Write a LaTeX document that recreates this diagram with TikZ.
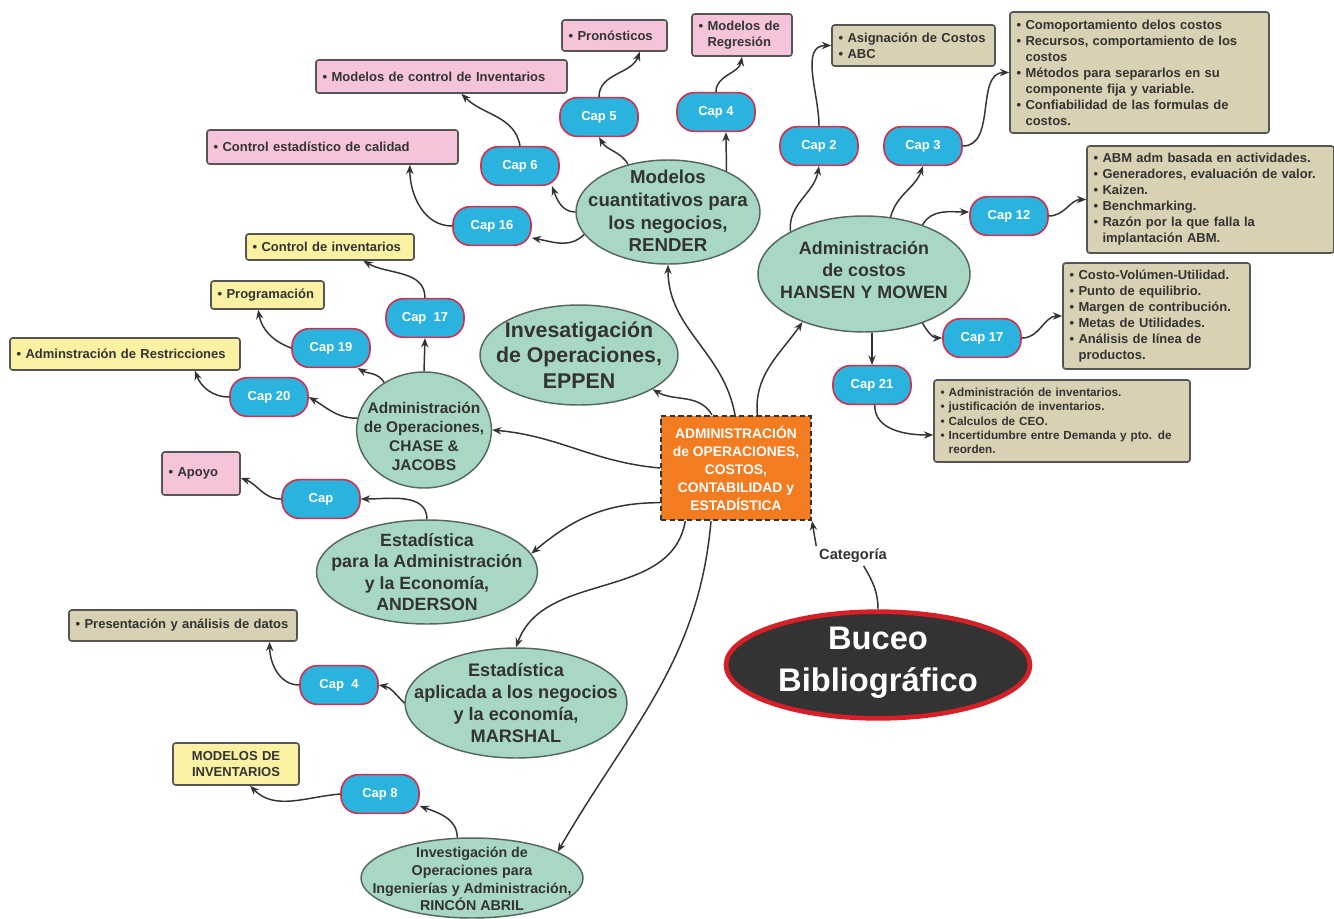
\documentclass[tikz,border=0pt]{standalone}
\usepackage{fontspec}
\setmainfont{Liberation Sans}
\usetikzlibrary{arrows.meta,shapes.geometric,calc}
\definecolor{txt}{HTML}{333333}
\definecolor{ellF}{HTML}{A8D8C3}
\definecolor{ellB}{HTML}{56675F}
\definecolor{capF}{HTML}{2BB3E0}
\definecolor{capB}{HTML}{D0304A}
\definecolor{pinkF}{HTML}{F6C4DA}
\definecolor{tanF}{HTML}{D8D1B3}
\definecolor{yelF}{HTML}{FBF1A3}
\definecolor{boxB}{HTML}{555555}
\definecolor{orgF}{HTML}{F47C20}
\definecolor{bucB}{HTML}{D61F26}
\definecolor{bucF}{HTML}{333333}
\begin{document}
\begin{tikzpicture}[x=0.75pt,y=-0.75pt,
  con/.style={draw=txt, line width=1.1pt, -{Stealth[length=7pt,width=5.5pt]}},
  plain/.style={draw=txt, line width=1.1pt},
  ell/.style={ellipse, draw=ellB, fill=ellF, line width=1.1pt, inner sep=0pt},
  etext/.style={text=txt, align=center, inner sep=0pt},
  capnode/.style={rectangle, rounded corners=13pt, draw=capB, fill=capF, line width=1.2pt,
    minimum width=58.5pt, minimum height=29pt, text=white,
    font=\fontsize{9.75}{12}\selectfont\bfseries},
  bx/.style={rectangle, rounded corners=2pt, draw=boxB, line width=1.2pt, text=txt,
    align=left, inner xsep=5pt, inner ysep=2pt,
    font=\fontsize{9.75}{12}\selectfont\bfseries},
  pinkbox/.style={bx, fill=pinkF},
  tanbox/.style={bx, fill=tanF},
  yelbox/.style={bx, fill=yelF}
]
\useasboundingbox (0,0) rectangle (1334,918);

% ---------- central and root ----------
\node[rectangle, draw=txt, fill=orgF, line width=1.5pt, dash pattern=on 4pt off 2.5pt,
  minimum width=112.5pt, minimum height=78pt, text=white, align=center, inner sep=1pt,
  font=\fontsize{10.4}{13.5}\selectfont\bfseries] (c) at (736,468)
  {ADMINISTRACIÓN\\de OPERACIONES,\\COSTOS,\\CONTABILIDAD y\\ESTADÍSTICA};

\node[ellipse, draw=bucB, fill=bucF, line width=3.5pt, minimum width=228pt, minimum height=80pt, inner sep=0pt] (buceo) at (878,665) {};
\node[etext, text=white, font=\fontsize{24.5}{31.5}\selectfont\bfseries] (buceoT) at (878,663) {Buceo\\Bibliográfico};

\node[text=txt, font=\fontsize{11}{13}\selectfont\bfseries, inner sep=2pt] (cat) at (853,556) {Categoría};

% ---------- ellipses ----------
\node[ell, minimum width=138pt, minimum height=78pt] (render) at (668,212) {};
\node[etext, font=\fontsize{14}{17}\selectfont\bfseries] (renderT) at (668,211) {Modelos\\cuantitativos para\\los negocios,\\RENDER};

\node[ell, minimum width=159pt, minimum height=87pt] (hansen) at (864,274) {};
\node[etext, font=\fontsize{13.4}{16.5}\selectfont\bfseries] (hansenT) at (864,270) {Administración\\de costos\\HANSEN Y MOWEN};

\node[ell, minimum width=148.5pt, minimum height=75pt] (eppen) at (579,355) {};
\node[etext, font=\fontsize{16}{19}\selectfont\bfseries] (eppenT) at (579,355) {Invesatigación\\de Operaciones,\\EPPEN};

\node[ell, minimum width=101pt, minimum height=87pt] (chase) at (424,430) {};
\node[etext, font=\fontsize{11.6}{14.2}\selectfont\bfseries] (chaseT) at (424,436) {Administración\\de Operaciones,\\CHASE \&\\JACOBS};

\node[ell, minimum width=165.75pt, minimum height=78pt] (anderson) at (427,572) {};
\node[etext, font=\fontsize{13.3}{16}\selectfont\bfseries] (andersonT) at (427,572) {Estadística\\para la Administración\\y la Economía,\\ANDERSON};

\node[ell, minimum width=166.5pt, minimum height=82.5pt] (marshal) at (516,703) {};
\node[etext, font=\fontsize{13.6}{16.3}\selectfont\bfseries] (marshalT) at (516,703) {Estadística\\aplicada a los negocios\\y la economía,\\MARSHAL};

\node[ell, minimum width=166.5pt, minimum height=60pt] (rincon) at (472,878) {};
\node[etext, font=\fontsize{10.7}{13.3}\selectfont\bfseries] (rinconT) at (472,879) {Investigación de\\Operaciones para\\Ingenierías y Administración,\\RINCÓN ABRIL};

% ---------- cap nodes ----------
\node[capnode] (cap5) at (599,117) {Cap 5};
\node[capnode] (cap4) at (716,112) {Cap 4};
\node[capnode] (cap6) at (520,166) {Cap 6};
\node[capnode] (cap16) at (492,226) {Cap 16};
\node[capnode] (cap2) at (819,146) {Cap 2};
\node[capnode] (cap3) at (923,146) {Cap 3};
\node[capnode] (cap12) at (1009,216) {Cap 12};
\node[capnode] (cap17r) at (982,338) {Cap 17};
\node[capnode] (cap21) at (872,385) {Cap 21};
\node[capnode] (cap17l) at (425,318) {Cap\ \ 17};
\node[capnode] (cap19) at (331,348) {Cap 19};
\node[capnode] (cap20) at (269,397) {Cap 20};
\node[capnode] (capa) at (321,499) {Cap};
\node[capnode] (cap4m) at (339,685) {Cap\ \ 4};
\node[capnode] (cap8) at (380,794) {Cap 8};

% ---------- boxes ----------
\node[pinkbox, text width=68.75pt, minimum height=23.25pt] (pron) at (614.5,35.5) {\textbullet\ Pronósticos};
\node[pinkbox, text width=65pt, minimum height=31.5pt] (regr) at (742,35) {\textbullet\ Modelos de\\\hphantom{\textbullet\ }Regresión};
\node[pinkbox, text width=178.25pt, minimum height=24.75pt] (minv) at (441.5,76.5) {\textbullet\ Modelos de control de Inventarios};
\node[pinkbox, text width=178.25pt, minimum height=25.5pt] (cal) at (332.5,147) {\textbullet\ Control estadístico de calidad};
\node[pinkbox, text width=48.5pt, minimum height=32.25pt] (apoyo) at (201,473.5) {\textbullet\ Apoyo};

\node[tanbox, text width=112.25pt, minimum height=30.75pt] (asig) at (913.5,45.5) {\textbullet\ Asignación de Costos\\\textbullet\ ABC};
\node[tanbox, text width=184.25pt, minimum height=90.75pt] (c3box) at (1139.5,72.5)
  {\textbullet\ Comoportamiento delos costos\\
   \textbullet\ Recursos, comportamiento de los\\\hphantom{\textbullet\ }costos\\
   \textbullet\ Métodos para separarlos en su\\\hphantom{\textbullet\ }componente fija y variable.\\
   \textbullet\ Confiabilidad de las formulas de\\\hphantom{\textbullet\ }costos.};
\node[tanbox, text width=175.25pt, minimum height=80.25pt] (c12box) at (1210.5,199.5)
  {\textbullet\ ABM adm basada en actividades.\\
   \textbullet\ Generadores, evaluación de valor.\\
   \textbullet\ Kaizen.\\
   \textbullet\ Benchmarking.\\
   \textbullet\ Razón por la que falla la\\\hphantom{\textbullet\ }implantación ABM.};
\node[tanbox, text width=130.25pt, minimum height=79.5pt] (c17box) at (1156.5,316)
  {\textbullet\ Costo-Volúmen-Utilidad.\\
   \textbullet\ Punto de equilibrio.\\
   \textbullet\ Margen de contribución.\\
   \textbullet\ Metas de Utilidades.\\
   \textbullet\ Análisis de línea de\\\hphantom{\textbullet\ }productos.};
\node[tanbox, text width=182pt, minimum height=61.5pt, font=\fontsize{8.8}{10.7}\selectfont\bfseries] (c21box) at (1062,421)
  {\textbullet\ Administración de inventarios.\\
   \textbullet\ justificación de inventarios.\\
   \textbullet\ Calculos de CEO.\\
   \textbullet\ Incertidumbre entre Demanda y pto. de\\\hphantom{\textbullet\ }reorden.};
\node[tanbox, text width=161pt, minimum height=23.25pt] (pres) at (183,625.5) {\textbullet\ Presentación y análisis de datos};

\node[yelbox, text width=116pt, minimum height=19.5pt] (cinv) at (330,247) {\textbullet\ Control de inventarios};
\node[yelbox, text width=74.75pt, minimum height=21pt] (prog) at (267.5,295) {\textbullet\ Programación};
\node[yelbox, text width=162.5pt, minimum height=24pt] (restr) at (125,354) {\textbullet\ Adminstración de Restricciones};
\node[yelbox, text width=84.5pt, minimum height=31.5pt, align=center] (modinv) at (236,764) {MODELOS DE\\INVENTARIOS};

% ---------- connectors from central ----------
\draw[con] ([xshift=-0.75pt]c.north) to[out=100,in=-90] (render.south);
\draw[con] ([xshift=16pt]c.north) to[out=95,in=-125] (hansen.218);
\draw[con] ([xshift=-18pt]c.north) to[out=120,in=-30] (eppen.-25);
\draw[con] (c.west) to[out=175,in=-5] (chase.east);
\draw[con] ([yshift=-26pt]c.west) to[out=180,in=40] (anderson.10);
\draw[con] ([xshift=-38pt]c.south) to[out=-100,in=70] (marshal.north);
\draw[con] ([xshift=-18.75pt]c.south) to[out=-95,in=60] (rincon.17);
\draw[plain] (buceo.north) to[out=90,in=-60] ([xshift=8pt]cat.south);
\draw[con] (cat.north west) -- (c.south east);

% ---------- RENDER ----------
\draw[con] (render.130) to[out=120,in=-60] (cap5.south);
\draw[con] (render.35) to[out=90,in=-90] ([xshift=7.5pt]cap4.south);
\draw[con] (render.180) to[out=180,in=-70] ([xshift=24pt]cap6.south);
\draw[con] (render.195) to[out=-135,in=-10] ([yshift=-9pt]cap16.east);
\draw[con] (cap5.north) to[out=90,in=-110] ([xshift=19pt]pron.south);
\draw[con] (cap4.north) to[out=90,in=-100] (regr.south);
\draw[con] (cap6.north) to[out=100,in=-45] ([xshift=15pt]minv.south);
\draw[con] (cap16.west) to[out=180,in=-90] ([xshift=58pt]cal.south);

% ---------- HANSEN ----------
\draw[con] (hansen.150) to[out=95,in=-100] (cap2.south);
\draw[con] (hansen.65) to[out=75,in=-110] (cap3.south);
\draw[con] (hansen.40) to[out=60,in=180] ([yshift=3pt]cap12.west);
\draw[con] (hansen.-40) to[out=-60,in=180] (cap17r.west);
\draw[con] (cap21.north |- hansen.south) -- (cap21.north);
\draw[con] (cap2.north) to[out=90,in=180] (asig.west);
\draw[con] (cap3.east) to[out=0,in=180] (c3box.west);
\draw[con] (cap12.east) to[out=0,in=180] (c12box.west);
\draw[con] (cap17r.east) to[out=0,in=180] (c17box.west);
\draw[con] ([xshift=2pt]cap21.south) to[out=-90,in=180] ([yshift=-10.5pt]c21box.west);

% ---------- CHASE ----------
\draw[con] (chase.north) -- (cap17l.south);
\draw[con] (chase.130) to[out=120,in=-30] ([xshift=20pt]cap19.south);
\draw[con] (chase.170) to[out=180,in=-30] (cap20.east);
\draw[con] (cap17l.north) to[out=90,in=-30] ([xshift=25pt]cinv.south);
\draw[con] (cap19.west) to[out=160,in=-80] ([xshift=-7pt]prog.south);
\draw[con] (cap20.west) to[out=180,in=-70] ([xshift=52.5pt]restr.south);

% ---------- ANDERSON ----------
\draw[con] (anderson.north) to[out=90,in=0] (capa.east);
\draw[con] (capa.west) to[out=180,in=-20] ([yshift=-3.4pt]apoyo.east);

% ---------- MARSHAL ----------
\draw[con] (marshal.west) to[out=135,in=-10] (cap4m.east);
\draw[con] (cap4m.west) to[out=180,in=-90] ([xshift=65pt]pres.south);

% ---------- RINCON ----------
\draw[con] (rincon.110) to[out=90,in=-20] ([yshift=-9pt]cap8.east);
\draw[con] (cap8.west) to[out=185,in=-45] ([xshift=10.5pt]modinv.south);
\end{tikzpicture}
\end{document}
